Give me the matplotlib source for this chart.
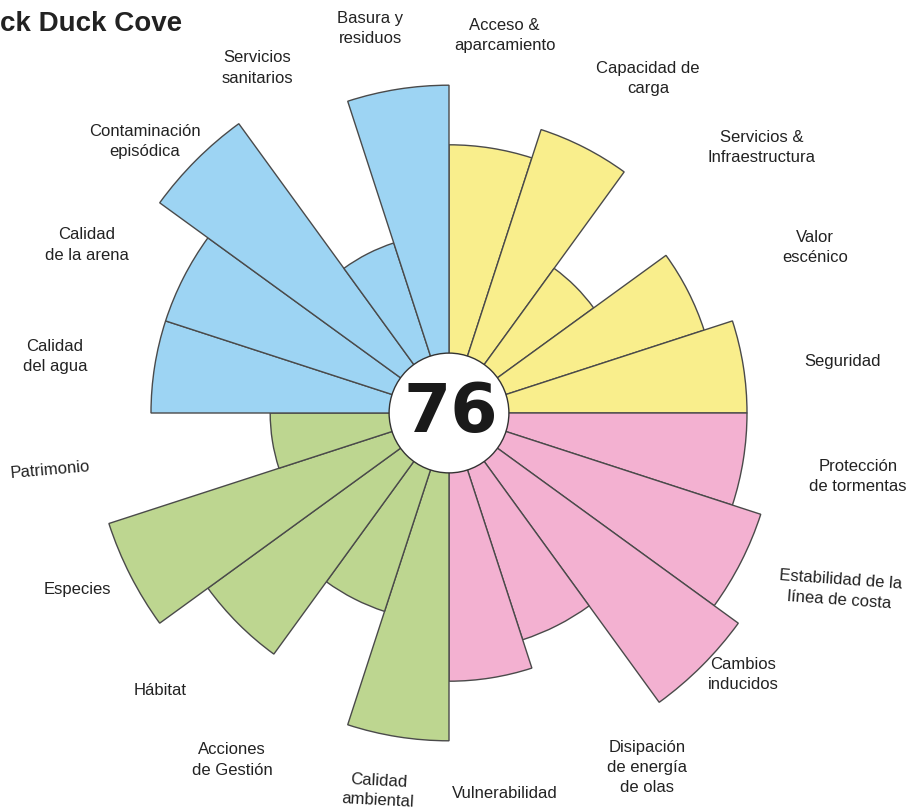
import numpy as np
import matplotlib
matplotlib.use("Agg")
import matplotlib.pyplot as plt
from matplotlib.patches import Circle

# ---------------- data ----------------
categories = [
    "Acceso &\naparcamiento", "Capacidad de\ncarga", "Servicios &\nInfraestructura",
    "Valor\nescénico", "Seguridad",
    "Protección\nde tormentas", "Estabilidad de la\nlínea de costa", "Cambios\ninducidos",
    "Disipación\nde energía\nde olas", "Vulnerabilidad",
    "Calidad\nambiental", "Acciones\nde Gestión", "Hábitat", "Especies", "Patrimonio",
    "Calidad\ndel agua", "Calidad\nde la arena", "Contaminación\nepisódica",
    "Servicios\nsanitarios", "Basura y\nresiduos",
]
values = [9, 10, 6, 9, 10,
          10, 11, 12, 8, 9,
          11, 7, 10, 12, 6,
          10, 10, 12, 6, 11]
groups = ["social"] * 5 + ["fisico"] * 5 + ["ecologico"] * 5 + ["calidad"] * 5
score = "76"
title = "ck Duck Cove"

# ---------------- style / layout ----------------
group_colors = {"social": "#f9ee8c", "fisico": "#f3b1d1",
                "ecologico": "#bdd690", "calidad": "#9dd4f3"}
# label placement: angular offset (deg) from segment centre, radius (data units), rotation
label_dang = [-0.6, 3.7, 4.7, 2.7, 1.6,
              -0.2, -2.6, -3.4, -2.2, 0.6,
              1.6, 5.0, 1.2, 1.6, 0.9,
              -0.8, -2.1, -3.2, -2.1, -2.6]
label_r = [12.8, 13.07, 13.76, 13.47, 13.33,
           13.89, 14.4, 13.2, 13.64, 12.89,
           12.9, 13.73, 13.43, 13.82, 13.52,
           13.36, 13.39, 13.69, 13.25, 13.16]
label_rot = [0, 0, 0, 0, 0,
             0, -4, 0, 0, 0,
             -3, 0, 0, 0, 5,
             0, 0, 0, 0, 0]

W, H = 919, 810
cx, cy = 449, 413          # centre in pixels (from top-left)
unit = 29.8                # pixels per value unit
rlim = 12.5
Rpx = rlim * unit

fig = plt.figure(figsize=(W / 100, H / 100), dpi=100)
ax = fig.add_axes([(cx - Rpx) / W, (H - cy - Rpx) / H, 2 * Rpx / W, 2 * Rpx / H],
                  projection="polar")
ax.set_theta_zero_location("N")
ax.set_theta_direction(-1)
ax.set_ylim(0, rlim)
ax.set_axis_off()

n = len(values)
width = 2 * np.pi / n
theta = np.arange(n) * width + width / 2
colors = [group_colors[g] for g in groups]

ax.bar(theta, values, width=width, bottom=0, color=colors,
       edgecolor="#4a4a4a", linewidth=1.0, align="center", zorder=2)

# centre disk with score
disk = Circle((0.5, 0.5), radius=2.01 / (2 * rlim), transform=ax.transAxes,
              facecolor="white", edgecolor="#333333", linewidth=1.0, zorder=5)
ax.add_patch(disk)
ax.text(0.503, 0.5, score, transform=ax.transAxes, ha="center", va="center",
        fontsize=49, fontweight="bold", family="DejaVu Sans", color="#1a1a1a", zorder=6)

# category labels
for i, lab in enumerate(categories):
    th = theta[i] + np.deg2rad(label_dang[i])
    ax.text(th, label_r[i], lab, ha="center", va="center", fontsize=12,
            family="Liberation Sans", color="#222222", clip_on=False,
            rotation=label_rot[i], rotation_mode="anchor", linespacing=1.42)

fig.text(0.0, 1 - 31 / H, title, ha="left", va="baseline", fontsize=20,
         fontweight="bold", family="Liberation Sans", color="#222222")

fig.savefig("out.png", dpi=100, facecolor="white")
